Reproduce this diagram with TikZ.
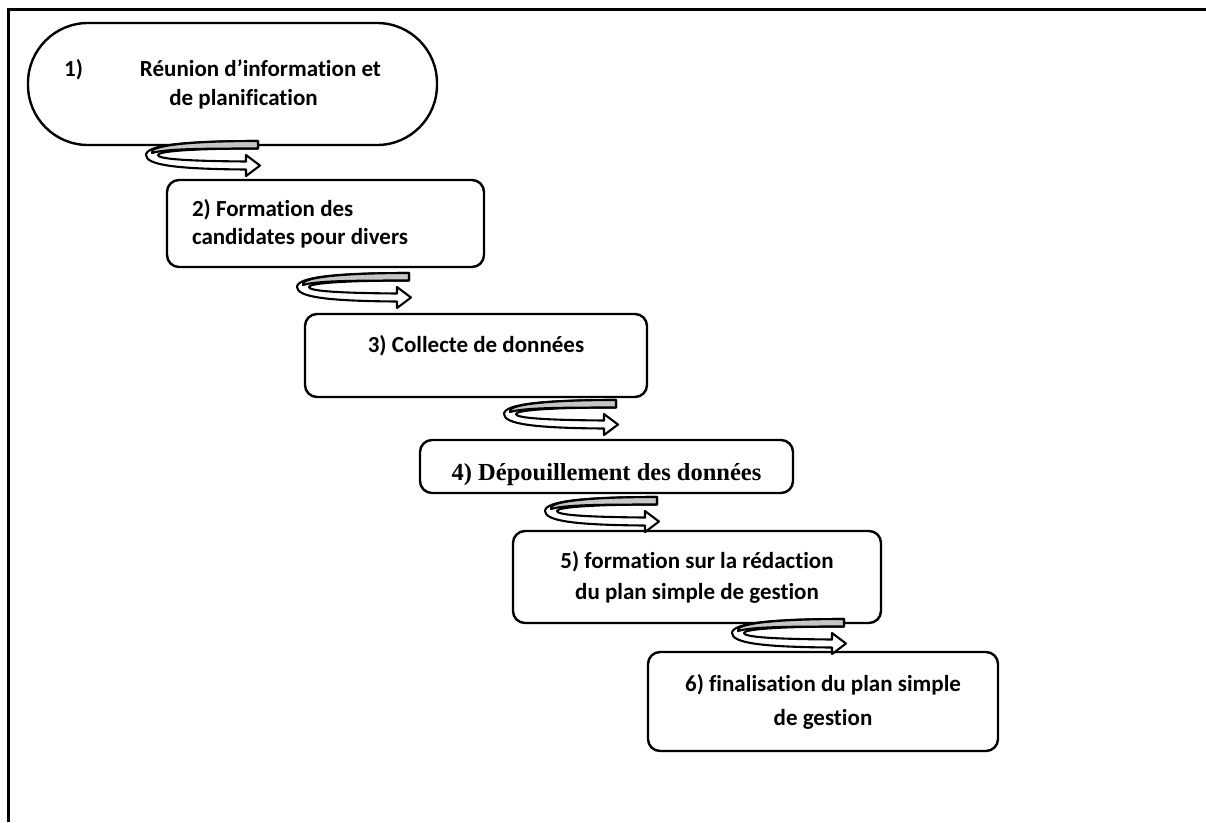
\documentclass[tikz,border=0pt]{standalone}
\usepackage{fontspec}
\setmainfont{Carlito}[Ligatures=CommonOff]
\newfontfamily\timesfont{Liberation Serif}
\usepackage{tikz}
\usetikzlibrary{positioning}
\tikzset{
  etape/.style={draw, line width=2.4pt, rounded corners=12pt, align=center,
    inner sep=0pt, font=\bfseries\fontsize{23}{28}\selectfont}, % Kästen
  ruban/.style={draw, line width=2.1pt, line join=round}, % Kringelpfeile
  cadre/.style={line width=3pt},
  curl/.pic={
    \draw[ruban, fill=white] (112,0) .. controls (40,0) and (0,4) .. (0,14)
      .. controls (0,24) and (30,28) .. (100,28.5) -- (100,35) -- (114,24.5)
      -- (100,14) -- (100,20.5) .. controls (40,20) and (12,18) .. (12,14)
      .. controls (12,10) and (50,7.5) .. (112,7.5) -- cycle;
    \draw[ruban, fill=gray!45] (112,0) .. controls (40,0) and (2,5) .. (6,12)
      .. controls (20,8) and (50,7.5) .. (112,7.5) -- cycle;
  }
}

\begin{document}
\begin{tikzpicture}[x=1pt, y=-1pt]
\useasboundingbox (0,0) rectangle (1206,822);

%Rahmen
\coordinate (R1) at (1206,9);
\coordinate (R2) at (8,9);
\coordinate (R3) at (8,822);
\draw[cadre] (R1) -- (R2) -- (R3);

%Schritte
\node[etape, rounded corners=60pt, minimum width=409pt, minimum height=122pt]
  (e1) at (232.5,84) {1)\hspace{57pt}Réunion d’information et\hspace*{20pt}\\[1pt]\hspace*{22pt}de planification};
\node[etape, align=flush left, minimum width=317pt, minimum height=87pt, text width=267pt]
  (e2) at (325.5,223.5) {2) Formation des\\candidates pour divers};
\node[etape, minimum width=342pt, minimum height=83pt, text height=16pt, text depth=21.6pt]
  (e3) at (476,355.5) {3) Collecte de données};
\node[etape, minimum width=373pt, minimum height=53pt, text height=29pt, text depth=2pt,
  font=\timesfont\bfseries\fontsize{24.5}{28}\selectfont]
  (e4) at (606.5,466.5) {4) Dépouillement des données};
\node[etape, minimum width=368pt, minimum height=92pt]
  (e5) at (697,577) {5) formation sur la rédaction\\[3pt]du plan simple de gestion};
\node[etape, minimum width=350pt, minimum height=99pt]
  (e6) at (823,701.5) {6) finalisation du plan simple\\[6pt]de gestion};

%Pfeile
\pic (p1) at (146,141) {curl};
\pic (p2) at (297,273) {curl};
\pic (p3) at (504,400) {curl};
\pic (p4) at (545,497) {curl};
\pic (p5) at (732,619) {curl};

\end{tikzpicture}
\end{document}
